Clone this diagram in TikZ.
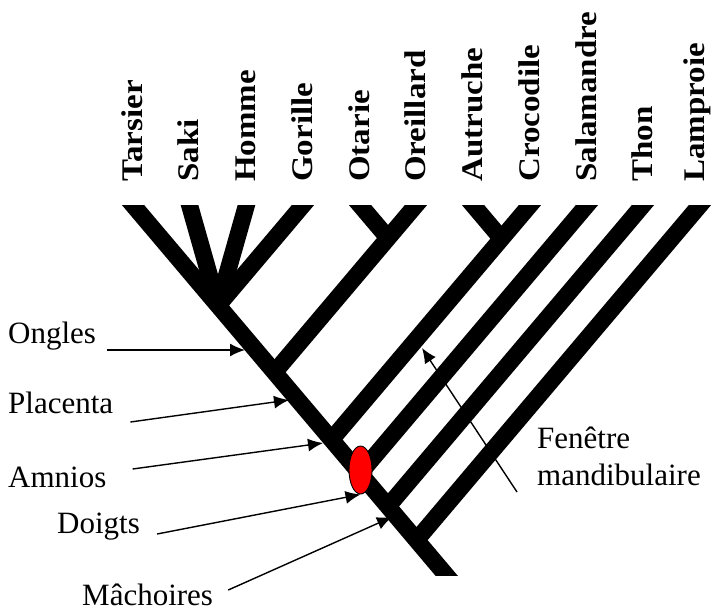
\documentclass[tikz,border=0pt]{standalone}
\usepackage{fontspec}
\setmainfont{Liberation Serif}
\newfontfamily\taxonfont[FakeStretch=1.1]{Liberation Serif}
\usetikzlibrary{arrows.meta, shapes.geometric}

\begin{document}
\begin{tikzpicture}[x=1pt, y=-1pt, branch/.style={line width=17pt, shorten >=-20pt}, taxon/.style={rotate=90, anchor=base west, inner sep=0, font=\taxonfont\bfseries\fontsize{30}{36}\selectfont}, trait/.style={anchor=base west, inner sep=0, font=\fontsize{31}{37}\selectfont}, n/.style={-{Latex[length=15pt, width=13pt]}, line width=1.4pt}, spot/.style={ellipse, draw, fill=red, line width=0.9pt, minimum width=23pt, minimum height=48pt, inner sep=0}]
                \useasboundingbox (0,0) rectangle (711,614);
                % taxa and tips
                \foreach \name/\x/\lx in {Tarsier/133/142, Saki/189.5/198, Homme/246.5/255, Gorille/303/312, Otarie/360/369, Oreillard/416/425, Autruche/473/482, Crocodile/530/539, Salamandre/587/596, Thon/643/652, Lamproie/700/704} {
                    \node[taxon] (\name) at (\lx, 182) {\name};
                    \coordinate (tip-\name) at (\x, 205);
                }
                % branching points
                \coordinate (primates) at (218, 305.5);
                \coordinate (pinnipedes) at (388, 238);
                \coordinate (archosaures) at (501.5, 238.7);
                \coordinate (mammiferes) at (274.5, 372.3);
                \coordinate (amniotes) at (331.5, 439.6);
                \coordinate (tetrapodes) at (360, 473.3);
                \coordinate (osteichtyens) at (388, 506.4);
                \coordinate (vertebres) at (416.5, 540.1);
                \coordinate (racine) at (446, 575);
                % tree
                \begin{scope}
                    \clip (0,205) rectangle (711,575);
                    \draw[branch, shorten <=-20pt] (racine) -- (tip-Tarsier);
                    \draw[branch] (primates) -- (tip-Saki);
                    \draw[branch] (primates) -- (tip-Homme);
                    \draw[branch] (primates) -- (tip-Gorille);
                    \draw[branch] (mammiferes) -- (tip-Oreillard);
                    \draw[branch] (pinnipedes) -- (tip-Otarie);
                    \draw[branch] (amniotes) -- (tip-Crocodile);
                    \draw[branch] (archosaures) -- (tip-Autruche);
                    \draw[branch] (tetrapodes) -- (tip-Salamandre);
                    \draw[branch] (osteichtyens) -- (tip-Thon);
                    \draw[branch] (vertebres) -- (tip-Lamproie);
                \end{scope}
                \node[spot] (doigts-spot) at (360.5, 470) {};
                % characters
                \node[trait] (ongles) at (8, 343) {Ongles};
                \node[trait] (placenta) at (8, 413) {Placenta};
                \node[trait] (amnios) at (8, 487) {Amnios};
                \node[trait] (doigts) at (57, 533) {Doigts};
                \node[trait] (machoires) at (82, 605) {Mâchoires};
                \node[trait, align=left] (fenetre) at (537, 485) {Fenêtre\\mandibulaire};
                \coordinate (on-ongles) at (245, 350);
                \coordinate (on-placenta) at (289, 400);
                \coordinate (on-amnios) at (323, 443);
                \coordinate (on-machoires) at (392, 517);
                \coordinate (on-fenetre) at (422, 348);
                % pointers
                \draw[n] ([shift={(11,7)}]ongles.base east) -- (on-ongles);
                \draw[n] ([shift={(17,9)}]placenta.base east) -- (on-placenta);
                \draw[n] ([shift={(26,-18)}]amnios.base east) -- (on-amnios);
                \draw[n] ([shift={(17,1)}]doigts.base east) -- (doigts-spot.south);
                \draw[n] ([shift={(15,-15)}]machoires.base east) -- (on-machoires);
                \draw[n] ([shift={(-20,7)}]fenetre.base west) -- (on-fenetre);
            \end{tikzpicture}
\end{document}
